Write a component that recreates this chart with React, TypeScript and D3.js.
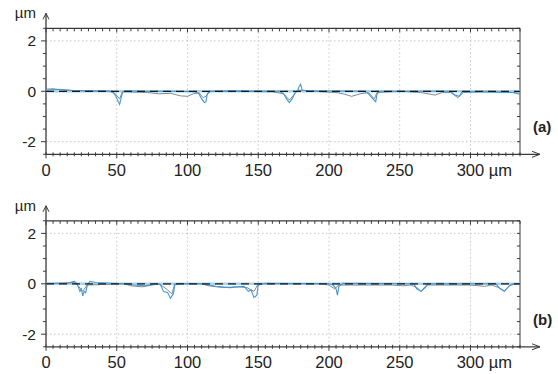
import React from 'react'
import * as d3 from 'd3'

// profile data: [x µm, height µm]
const aBlue: [number, number][] = [[0,0.08],[5,0.1],[10,0.06],[20,0.03],[30,0.02],[40,0.02],[47,0],[49,-0.15],[51,-0.4],[52,-0.52],[53,-0.3],[54,-0.05],[56,0.02],[70,0],[90,0],[105,-0.02],[108,-0.1],[110,-0.3],[112,-0.45],[113,-0.42],[114,-0.1],[116,0],[130,0.02],[165,0],[168,-0.1],[170,-0.3],[172,-0.45],[174,-0.3],[176,-0.05],[178,0.05],[179,0.2],[180,0.28],[181,0.05],[185,0.02],[225,0],[228,-0.1],[231,-0.3],[233,-0.42],[234,-0.1],[236,0],[286,0],[289,-0.15],[292,-0.2],[294,-0.02],[330,-0.05],[335,-0.08]]
const aGray: [number, number][] = [[0,0.05],[10,0.08],[20,0.02],[45,0],[49,-0.1],[52,-0.3],[54,-0.02],[72,-0.05],[80,-0.1],[88,-0.08],[95,-0.18],[100,-0.2],[104,-0.1],[108,-0.05],[111,-0.25],[113,-0.2],[116,0],[130,0],[160,-0.02],[168,-0.1],[172,-0.35],[175,-0.15],[178,0.05],[190,0],[205,-0.05],[210,-0.1],[216,-0.2],[222,-0.1],[228,-0.05],[232,-0.3],[234,-0.05],[250,0],[265,-0.05],[275,-0.15],[280,-0.05],[286,-0.05],[291,-0.25],[295,-0.05],[310,0],[330,-0.05],[335,-0.12]]
const bBlue: [number, number][] = [[0,0.02],[15,0.02],[20,0.1],[22,0],[24,-0.3],[25,-0.2],[26,-0.48],[27,-0.3],[28,-0.35],[29,-0.1],[31,0.1],[35,0.05],[55,0],[62,-0.05],[70,-0.08],[78,0],[81,-0.05],[83,-0.3],[86,-0.35],[88,-0.58],[90,-0.4],[91,-0.05],[95,0],[110,0],[120,-0.1],[130,-0.15],[140,-0.1],[143,-0.3],[145,-0.25],[147,-0.55],[149,-0.45],[150,-0.05],[155,0.02],[200,0],[203,-0.05],[205,-0.2],[206,-0.45],[207,-0.1],[210,0.02],[260,0],[262,-0.2],[265,-0.3],[268,-0.15],[270,0],[318,0],[321,-0.2],[324,-0.3],[327,-0.1],[330,0],[335,0]]
const bGray: [number, number][] = [[0,0],[20,0.05],[23,-0.1],[26,-0.3],[29,-0.05],[55,0],[60,-0.08],[68,-0.12],[75,-0.05],[80,0],[85,-0.2],[89,-0.4],[91,0],[110,0],[115,-0.08],[125,-0.15],[135,-0.12],[142,-0.15],[147,-0.3],[150,0],[195,0],[200,-0.05],[204,-0.2],[207,-0.05],[245,-0.05],[252,-0.08],[258,-0.05],[262,-0.15],[265,-0.3],[269,-0.05],[300,-0.05],[310,-0.1],[315,-0.05],[320,-0.15],[324,-0.28],[328,-0.05],[335,0]]

const xTicks = [0, 50, 100, 150, 200, 250, 300]
const yTicks = [2, 0, -2]
const panelLabels = ['(a)', '(b)']

const left = 46, right = 520, xMax = 335
const axisCol = '#3a3a3a'
const font = '"Liberation Sans", Arial, sans-serif'

const Panel = ({top, blue, gray, label}: {top: number, blue: [number, number][], gray: [number, number][], label: string}) => {
  const h = 126
  const x = d3.scaleLinear().domain([0, xMax]).range([left, right])
  const y = d3.scaleLinear().domain([-2.5, 2.5]).range([top + h, top])
  const line = d3.line<[number, number]>().x(d => x(d[0])).y(d => y(d[1]))
  const minorX = d3.range(0, xMax + 0.1, 5)
  const minorY = d3.range(-2.5, 2.51, 0.5)
  const bottom = y(-2.5)

  return (
    <g>
      {/* dotted grid */}
      {xTicks.filter(t => t > 0).map(t => (
        <line key={'gx' + t} x1={x(t)} x2={x(t)} y1={top} y2={bottom} stroke="#c8c8c8" strokeDasharray="1.5,2.5" />
      ))}
      {yTicks.map(t => (
        <line key={'gy' + t} x1={left} x2={right} y1={y(t)} y2={y(t)} stroke="#c8c8c8" strokeDasharray="1.5,2.5" />
      ))}
      {/* frame */}
      <line x1={left} x2={right} y1={top} y2={top} stroke={axisCol} strokeWidth={1.3} />
      <line x1={right} x2={right} y1={top} y2={bottom} stroke={axisCol} strokeWidth={1} />
      {minorX.map(t => (
        <line key={'tt' + t} x1={x(t)} x2={x(t)} y1={top} y2={top + (t % 50 === 0 ? 4 : 3)} stroke={axisCol} />
      ))}
      {minorY.map(t => (
        <line key={'rt' + t} x1={right} x2={right - 3} y1={y(t)} y2={y(t)} stroke={axisCol} />
      ))}
      {/* axes */}
      <line x1={left} x2={left} y1={bottom} y2={top - 15} stroke={axisCol} strokeWidth={1.3} />
      <path d={`M${left - 3},${top - 9} L${left},${top - 15} L${left + 3},${top - 9}`} fill="none" stroke={axisCol} />
      <line x1={left} x2={right + 20} y1={bottom} y2={bottom} stroke={axisCol} strokeWidth={1.3} />
      <path d={`M${right + 12},${bottom - 3} L${right + 20},${bottom} L${right + 12},${bottom + 3}`} fill="none" stroke={axisCol} />
      {minorX.map(t => (
        <line key={'bt' + t} x1={x(t)} x2={x(t)} y1={bottom - 2} y2={bottom + (t % 50 === 0 ? 4 : 2)} stroke={axisCol} />
      ))}
      {minorY.map(t => (
        <line key={'lt' + t} x1={left} x2={left - (t % 2 === 0 ? 5 : 3)} y1={y(t)} y2={y(t)} stroke={axisCol} />
      ))}
      {/* zero reference */}
      <line x1={left} x2={right} y1={y(0)} y2={y(0)} stroke="#a6d6ef" strokeWidth={2.5} />
      <path d={line(gray) || ''} fill="none" stroke="#7d8c92" strokeWidth={1} />
      <path d={line(blue) || ''} fill="none" stroke="#4596d4" strokeWidth={1.1} />
      <line x1={left} x2={right} y1={y(0)} y2={y(0)} stroke="#1a1a1a" strokeWidth={1.3} strokeDasharray="8,5" />
      {/* labels */}
      {yTicks.map(t => (
        <text key={'yl' + t} x={left - 10} y={y(t)} dy="0.36em" textAnchor="end" fontSize={15.5} fill="#222" fontFamily={font}>{t}</text>
      ))}
      {xTicks.map(t => (
        <text key={'xl' + t} x={x(t)} y={bottom + 21.5} textAnchor={t === 300 ? 'start' : 'middle'} dx={t === 300 ? -13.8 : 0} fontSize={16.5} fill="#222" fontFamily={font}>{t === 300 ? '300 µm' : t}</text>
      ))}
      <text x={left - 10} y={top - 10} textAnchor="end" fontSize={15} fill="#222" fontFamily={font}>µm</text>
      <text x={533} y={top + 104} fontSize={15} fontWeight="bold" fill="#222" fontFamily={font}>{label}</text>
    </g>
  )
}

export default function App() {
  return (
    <svg width={558} height={374} style={{position: 'absolute', left: 0, top: 0, background: '#fff'}}>
      <Panel top={28.3} blue={aBlue} gray={aGray} label={panelLabels[0]} />
      <Panel top={220.8} blue={bBlue} gray={bGray} label={panelLabels[1]} />
    </svg>
  )
}
